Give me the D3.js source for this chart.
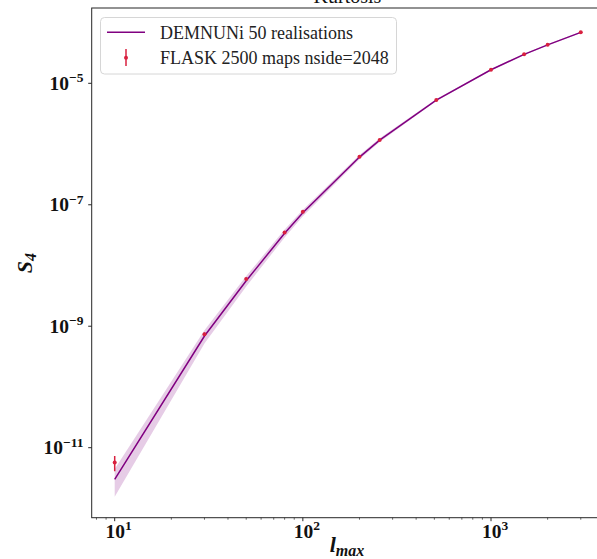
<!DOCTYPE html>
<html><head><meta charset="utf-8">
<script src="https://cdn.jsdelivr.net/npm/d3@7"></script>
<style>body{margin:0;background:#fff}svg{display:block}</style>
</head><body>
<svg id="c" width="597" height="559"></svg>
<script>
// ---- data ----
const lmax = [10, 30, 50, 80, 100, 200, 256, 512, 1000, 1500, 2000, 3000];
const demnuniMean = [3.0e-12, 6.9e-10, 5.6e-9, 3.4e-8, 7.4e-8, 6.1e-7, 1.16e-6, 5.3e-6, 1.67e-5, 3.0e-5, 4.3e-5, 6.9e-5];
const demnuniStd  = [1.45e-12, 1.7e-10, 1.1e-9, 5.0e-9, 9.0e-9, 5.0e-8, 8.0e-8, 2.1e-7, 5.0e-7, 7.5e-7, 9.0e-7, 1.4e-6];
const flaskMean = [5.7e-12, 7.4e-10, 6.0e-9, 3.5e-8, 7.7e-8, 6.2e-7, 1.17e-6, 5.3e-6, 1.67e-5, 3.0e-5, 4.3e-5, 6.9e-5];
const flaskErr  = [1.6e-12, 5e-11, 3e-10, 1.5e-9, 2.5e-9, 1.5e-8, 2.5e-8, 8e-8, 2e-7, 3e-7, 4e-7, 6e-7];
const xMajor = [10, 100, 1000];
const xTickLabels = ["1", "2", "3"];
const yMajor = [1e-11, 1e-9, 1e-7, 1e-5];
const yTickLabels = ["−11", "−9", "−7", "−5"];
const legendLabels = ["DEMNUNi 50 realisations", "FLASK 2500 maps nside=2048"];
const title = "Kurtosis";

// ---- layout ----
const L = 91.7, R = 604, T = 8, B = 517.7;
const svg = d3.select("#c");
const x = d3.scaleLog().domain([10, 1000]).range([114.7, 491]);
const y = d3.scaleLog().domain([1e-11, 1e-5]).range([447.7, 83.3]);
const serif = "'Liberation Serif', 'DejaVu Serif', serif";
const purple = "#800080", red = "#d8203f";

svg.append("defs").append("clipPath").attr("id", "clip")
  .append("rect").attr("x", L).attr("y", T).attr("width", R - L).attr("height", B - T);

const g = svg.append("g").attr("clip-path", "url(#clip)");
const rows = lmax.map((l, i) => ({l, m: demnuniMean[i], s: demnuniStd[i], f: flaskMean[i], e: flaskErr[i]}));

// band
g.append("path").datum(rows)
  .attr("d", d3.area().x(d => x(d.l)).y0(d => y(d.m - d.s)).y1(d => y(d.m + d.s)))
  .attr("fill", purple).attr("fill-opacity", 0.2);
// mean line
g.append("path").datum(rows)
  .attr("d", d3.line().x(d => x(d.l)).y(d => y(d.m)))
  .attr("fill", "none").attr("stroke", purple).attr("stroke-width", 1.5);
// error bars
g.selectAll("line.eb").data(rows).join("line")
  .attr("x1", d => x(d.l)).attr("x2", d => x(d.l))
  .attr("y1", d => y(d.f - d.e)).attr("y2", d => y(d.f + d.e))
  .attr("stroke", red).attr("stroke-width", 1.5);
g.selectAll("circle.pt").data(rows).join("circle")
  .attr("cx", d => x(d.l)).attr("cy", d => y(d.f)).attr("r", 2).attr("fill", red);

// frame
const ax = svg.append("g").attr("stroke", "#262626").attr("stroke-width", 1).attr("fill", "none");
ax.append("rect").attr("x", L).attr("y", T).attr("width", R - L).attr("height", B - T);

// x ticks
const xMinor = [8, 9];
for (let dec = 10; dec <= 1000; dec *= 10) for (let k = 2; k <= 9; k++) {
  const v = k * dec; const px = x(v); if (px > L && px < 597) xMinor.push(v);
}
ax.selectAll("line.xmin").data(xMinor).join("line")
  .attr("x1", d => x(d)).attr("x2", d => x(d)).attr("y1", B).attr("y2", B + 2)
  .attr("stroke-width", 0.7);
ax.selectAll("line.xmaj").data(xMajor).join("line")
  .attr("x1", d => x(d)).attr("x2", d => x(d)).attr("y1", B).attr("y2", B + 3.5);
ax.selectAll("line.ymaj").data(yMajor).join("line")
  .attr("x1", L - 3.5).attr("x2", L).attr("y1", d => y(d)).attr("y2", d => y(d));

// x tick labels
xMajor.forEach((v, i) => {
  const t = svg.append("text").attr("x", x(v) + 4).attr("y", 537.5)
    .attr("text-anchor", "middle").attr("font-family", serif).attr("font-weight", "bold")
    .attr("font-size", 19.5).attr("fill", "#111");
  t.append("tspan").text("10");
  t.append("tspan").attr("font-size", 13.5).attr("dy", -7.5).text(xTickLabels[i]);
});
// y tick labels
yMajor.forEach((v, i) => {
  const t = svg.append("text").attr("x", 83.5).attr("y", y(v) + 6.5)
    .attr("text-anchor", "end").attr("font-family", serif).attr("font-weight", "bold")
    .attr("font-size", 19.5).attr("fill", "#111");
  t.append("tspan").text("10");
  t.append("tspan").attr("font-size", 13.5).attr("dy", -7.5).text(yTickLabels[i]);
});

// axis labels
const xl = svg.append("text").attr("x", 347).attr("y", 552).attr("text-anchor", "middle")
  .attr("font-family", serif).attr("font-weight", "bold").attr("font-style", "italic")
  .attr("font-size", 22).attr("fill", "#111");
xl.append("tspan").text("l");
xl.append("tspan").attr("font-size", 16).attr("dy", 4).text("max");
const yl = svg.append("text").attr("transform", "translate(32,263) rotate(-90)").attr("text-anchor", "middle")
  .attr("font-family", serif).attr("font-weight", "bold").attr("font-style", "italic")
  .attr("font-size", 22).attr("fill", "#111");
yl.append("tspan").text("S");
yl.append("tspan").attr("font-size", 16).attr("dy", 4).text("4");

// title (cut off at top, as in the reference)
svg.append("text").attr("x", 347.5).attr("y", 3).attr("text-anchor", "middle")
  .attr("font-family", serif).attr("font-size", 20).attr("fill", "#111").text(title);

// legend
const lg = svg.append("g");
lg.append("rect").attr("x", 100.5).attr("y", 17.5).attr("width", 296).attr("height", 56.5).attr("rx", 4)
  .attr("fill", "#fff").attr("fill-opacity", 0.8).attr("stroke", "#d6d6d6").attr("stroke-width", 1);
lg.append("line").attr("x1", 107).attr("x2", 145).attr("y1", 32.3).attr("y2", 32.3)
  .attr("stroke", purple).attr("stroke-width", 1.5);
lg.append("line").attr("x1", 126).attr("x2", 126).attr("y1", 49).attr("y2", 66)
  .attr("stroke", red).attr("stroke-width", 1.5);
lg.append("circle").attr("cx", 126).attr("cy", 57.7).attr("r", 2).attr("fill", red);
legendLabels.forEach((s, i) => {
  lg.append("text").attr("x", 160).attr("y", 38.5 + i * 25).attr("font-family", serif)
    .attr("font-size", 18).attr("fill", "#222").text(s);
});
</script>
</body></html>
